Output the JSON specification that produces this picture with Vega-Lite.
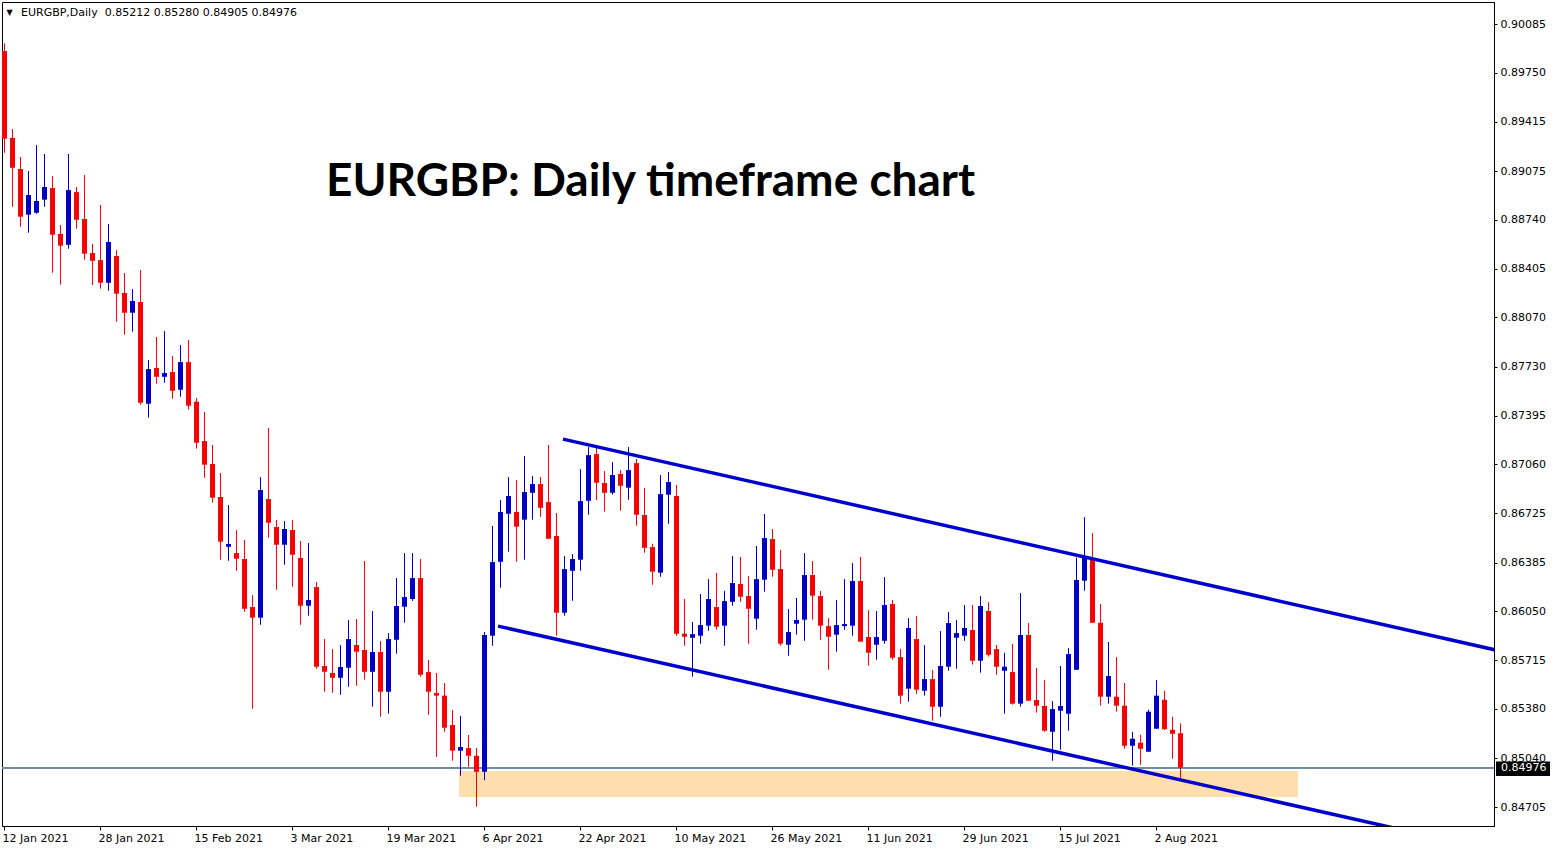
{
"$schema": "https://vega.github.io/schema/vega-lite/v6.json",
"width": 1492, "height": 824,
"autosize": "none",
"padding": {"left": 2, "top": 2, "right": 64, "bottom": 24},
"background": "white",
"config": {"view": {"stroke": "black", "strokeWidth": 1}, "axis": {"grid": false, "labelFont": "DejaVu Sans", "labelFontSize": 11, "labelColor": "black", "domainColor": "black", "tickColor": "black"}},
"resolve": {"axis": {"x": "independent", "y": "independent"}},
"data": {"values": [
{"i":0,"o":0.89899,"h":0.89952,"l":0.89200,"c":0.89297},
{"i":1,"o":0.89302,"h":0.89363,"l":0.88829,"c":0.89097},
{"i":2,"o":0.89089,"h":0.89171,"l":0.88692,"c":0.88761},
{"i":3,"o":0.88775,"h":0.89075,"l":0.88651,"c":0.88910},
{"i":4,"o":0.88788,"h":0.89253,"l":0.88781,"c":0.88869},
{"i":5,"o":0.88878,"h":0.89192,"l":0.88829,"c":0.88965},
{"i":6,"o":0.88958,"h":0.89040,"l":0.88376,"c":0.88637},
{"i":7,"o":0.88642,"h":0.88704,"l":0.88294,"c":0.88562},
{"i":8,"o":0.88568,"h":0.89192,"l":0.88541,"c":0.88944},
{"i":9,"o":0.88930,"h":0.88965,"l":0.88678,"c":0.88740},
{"i":10,"o":0.88745,"h":0.89047,"l":0.88465,"c":0.88507},
{"i":11,"o":0.88511,"h":0.88575,"l":0.88291,"c":0.88458},
{"i":12,"o":0.88463,"h":0.88841,"l":0.88266,"c":0.88307},
{"i":13,"o":0.88307,"h":0.88711,"l":0.88252,"c":0.88587},
{"i":14,"o":0.88491,"h":0.88532,"l":0.88039,"c":0.88232},
{"i":15,"o":0.88237,"h":0.88374,"l":0.87950,"c":0.88101},
{"i":16,"o":0.88101,"h":0.88264,"l":0.87971,"c":0.88182},
{"i":17,"o":0.88175,"h":0.88395,"l":0.87469,"c":0.87483},
{"i":18,"o":0.87476,"h":0.87776,"l":0.87380,"c":0.87714},
{"i":19,"o":0.87721,"h":0.87934,"l":0.87613,"c":0.87661},
{"i":20,"o":0.87661,"h":0.87975,"l":0.87620,"c":0.87687},
{"i":21,"o":0.87694,"h":0.87804,"l":0.87510,"c":0.87565},
{"i":22,"o":0.87572,"h":0.87879,"l":0.87524,"c":0.87762},
{"i":23,"o":0.87762,"h":0.87914,"l":0.87435,"c":0.87462},
{"i":24,"o":0.87490,"h":0.87515,"l":0.87167,"c":0.87208},
{"i":25,"o":0.87220,"h":0.87419,"l":0.86967,"c":0.87057},
{"i":26,"o":0.87062,"h":0.87192,"l":0.86796,"c":0.86830},
{"i":27,"o":0.86835,"h":0.87000,"l":0.86404,"c":0.86528},
{"i":28,"o":0.86493,"h":0.86780,"l":0.86397,"c":0.86512},
{"i":29,"o":0.86450,"h":0.86608,"l":0.86328,"c":0.86411},
{"i":30,"o":0.86409,"h":0.86539,"l":0.86047,"c":0.86067},
{"i":31,"o":0.86079,"h":0.86161,"l":0.85380,"c":0.86006},
{"i":32,"o":0.86006,"h":0.86972,"l":0.85957,"c":0.86883},
{"i":33,"o":0.86821,"h":0.87309,"l":0.86555,"c":0.86658},
{"i":34,"o":0.86629,"h":0.86677,"l":0.86198,"c":0.86507},
{"i":35,"o":0.86507,"h":0.86670,"l":0.86370,"c":0.86615},
{"i":36,"o":0.86608,"h":0.86677,"l":0.86219,"c":0.86438},
{"i":37,"o":0.86416,"h":0.86533,"l":0.85957,"c":0.86088},
{"i":38,"o":0.86088,"h":0.86519,"l":0.86019,"c":0.86127},
{"i":39,"o":0.86216,"h":0.86251,"l":0.85655,"c":0.85669},
{"i":40,"o":0.85674,"h":0.85859,"l":0.85497,"c":0.85634},
{"i":41,"o":0.85626,"h":0.85790,"l":0.85490,"c":0.85593},
{"i":42,"o":0.85593,"h":0.85818,"l":0.85476,"c":0.85667},
{"i":43,"o":0.85662,"h":0.85990,"l":0.85531,"c":0.85859},
{"i":44,"o":0.85818,"h":0.85997,"l":0.85538,"c":0.85772},
{"i":45,"o":0.85784,"h":0.86395,"l":0.85580,"c":0.85634},
{"i":46,"o":0.85634,"h":0.86052,"l":0.85394,"c":0.85770},
{"i":47,"o":0.85770,"h":0.85845,"l":0.85325,"c":0.85497},
{"i":48,"o":0.85497,"h":0.85900,"l":0.85346,"c":0.85859},
{"i":49,"o":0.85854,"h":0.86278,"l":0.85758,"c":0.86086},
{"i":50,"o":0.86081,"h":0.86450,"l":0.85971,"c":0.86148},
{"i":51,"o":0.86134,"h":0.86450,"l":0.86120,"c":0.86278},
{"i":52,"o":0.86278,"h":0.86409,"l":0.85600,"c":0.85614},
{"i":53,"o":0.85632,"h":0.85715,"l":0.85339,"c":0.85497},
{"i":54,"o":0.85488,"h":0.85626,"l":0.85050,"c":0.85470},
{"i":55,"o":0.85470,"h":0.85557,"l":0.85222,"c":0.85250},
{"i":56,"o":0.85268,"h":0.85371,"l":0.85023,"c":0.85092},
{"i":57,"o":0.85092,"h":0.85332,"l":0.84920,"c":0.85117},
{"i":58,"o":0.85110,"h":0.85200,"l":0.84982,"c":0.85057},
{"i":59,"o":0.85057,"h":0.85110,"l":0.84707,"c":0.84947},
{"i":60,"o":0.84947,"h":0.85907,"l":0.84890,"c":0.85887},
{"i":61,"o":0.85882,"h":0.86636,"l":0.85813,"c":0.86388},
{"i":62,"o":0.86390,"h":0.86814,"l":0.86212,"c":0.86732},
{"i":63,"o":0.86720,"h":0.86972,"l":0.86459,"c":0.86842},
{"i":64,"o":0.86732,"h":0.86952,"l":0.86390,"c":0.86631},
{"i":65,"o":0.86679,"h":0.87117,"l":0.86404,"c":0.86869},
{"i":66,"o":0.86864,"h":0.86979,"l":0.86679,"c":0.86924},
{"i":67,"o":0.86924,"h":0.86972,"l":0.86699,"c":0.86761},
{"i":68,"o":0.86800,"h":0.87192,"l":0.86548,"c":0.86548},
{"i":69,"o":0.86567,"h":0.86725,"l":0.85882,"c":0.86040},
{"i":70,"o":0.86040,"h":0.86429,"l":0.86019,"c":0.86340},
{"i":71,"o":0.86328,"h":0.86443,"l":0.86122,"c":0.86409},
{"i":72,"o":0.86404,"h":0.87027,"l":0.86328,"c":0.86807},
{"i":73,"o":0.86809,"h":0.87178,"l":0.86713,"c":0.87123},
{"i":74,"o":0.87130,"h":0.87192,"l":0.86814,"c":0.86933},
{"i":75,"o":0.86931,"h":0.87013,"l":0.86734,"c":0.86864},
{"i":76,"o":0.86864,"h":0.87075,"l":0.86851,"c":0.86986},
{"i":77,"o":0.86993,"h":0.87020,"l":0.86741,"c":0.86912},
{"i":78,"o":0.86899,"h":0.87178,"l":0.86816,"c":0.87020},
{"i":79,"o":0.87068,"h":0.87096,"l":0.86638,"c":0.86713},
{"i":80,"o":0.86711,"h":0.86897,"l":0.86452,"c":0.86486},
{"i":81,"o":0.86491,"h":0.86514,"l":0.86232,"c":0.86322},
{"i":82,"o":0.86315,"h":0.86986,"l":0.86287,"c":0.86855},
{"i":83,"o":0.86851,"h":0.87007,"l":0.86651,"c":0.86938},
{"i":84,"o":0.86842,"h":0.86917,"l":0.85882,"c":0.85896},
{"i":85,"o":0.85896,"h":0.86134,"l":0.85813,"c":0.85875},
{"i":86,"o":0.85868,"h":0.85976,"l":0.85600,"c":0.85893},
{"i":87,"o":0.85882,"h":0.86168,"l":0.85827,"c":0.85955},
{"i":88,"o":0.85951,"h":0.86271,"l":0.85916,"c":0.86134},
{"i":89,"o":0.86079,"h":0.86313,"l":0.85923,"c":0.85944},
{"i":90,"o":0.85951,"h":0.86191,"l":0.85813,"c":0.86120},
{"i":91,"o":0.86115,"h":0.86429,"l":0.86088,"c":0.86244},
{"i":92,"o":0.86237,"h":0.86423,"l":0.86115,"c":0.86150},
{"i":93,"o":0.86155,"h":0.86292,"l":0.85827,"c":0.86067},
{"i":94,"o":0.85999,"h":0.86498,"l":0.85923,"c":0.86271},
{"i":95,"o":0.86267,"h":0.86718,"l":0.86184,"c":0.86553},
{"i":96,"o":0.86546,"h":0.86615,"l":0.86287,"c":0.86335},
{"i":97,"o":0.86340,"h":0.86471,"l":0.85813,"c":0.85827},
{"i":98,"o":0.85820,"h":0.86065,"l":0.85744,"c":0.85907},
{"i":99,"o":0.85964,"h":0.86141,"l":0.85889,"c":0.85990},
{"i":100,"o":0.85992,"h":0.86450,"l":0.85847,"c":0.86299},
{"i":101,"o":0.86299,"h":0.86395,"l":0.85992,"c":0.86157},
{"i":102,"o":0.86155,"h":0.86189,"l":0.85854,"c":0.85951},
{"i":103,"o":0.85948,"h":0.86003,"l":0.85648,"c":0.85875},
{"i":104,"o":0.85889,"h":0.86127,"l":0.85772,"c":0.85955},
{"i":105,"o":0.85948,"h":0.86271,"l":0.85923,"c":0.85962},
{"i":106,"o":0.85951,"h":0.86381,"l":0.85882,"c":0.86258},
{"i":107,"o":0.86258,"h":0.86423,"l":0.85841,"c":0.85841},
{"i":108,"o":0.85873,"h":0.86058,"l":0.85676,"c":0.85765},
{"i":109,"o":0.85820,"h":0.86052,"l":0.85717,"c":0.85873},
{"i":110,"o":0.85847,"h":0.86285,"l":0.85827,"c":0.86093},
{"i":111,"o":0.86100,"h":0.86127,"l":0.85717,"c":0.85731},
{"i":112,"o":0.85735,"h":0.85792,"l":0.85415,"c":0.85470},
{"i":113,"o":0.85518,"h":0.86003,"l":0.85428,"c":0.85935},
{"i":114,"o":0.85859,"h":0.86017,"l":0.85483,"c":0.85511},
{"i":115,"o":0.85504,"h":0.85818,"l":0.85470,"c":0.85584},
{"i":116,"o":0.85584,"h":0.85646,"l":0.85298,"c":0.85394},
{"i":117,"o":0.85394,"h":0.85914,"l":0.85325,"c":0.85674},
{"i":118,"o":0.85669,"h":0.86045,"l":0.85641,"c":0.85969},
{"i":119,"o":0.85868,"h":0.85990,"l":0.85655,"c":0.85900},
{"i":120,"o":0.85882,"h":0.86093,"l":0.85847,"c":0.85935},
{"i":121,"o":0.85921,"h":0.86093,"l":0.85683,"c":0.85710},
{"i":122,"o":0.85710,"h":0.86155,"l":0.85628,"c":0.86086},
{"i":123,"o":0.86052,"h":0.86113,"l":0.85738,"c":0.85751},
{"i":124,"o":0.85790,"h":0.85818,"l":0.85614,"c":0.85669},
{"i":125,"o":0.85641,"h":0.85765,"l":0.85346,"c":0.85669},
{"i":126,"o":0.85632,"h":0.85825,"l":0.85408,"c":0.85415},
{"i":127,"o":0.85415,"h":0.86175,"l":0.85394,"c":0.85887},
{"i":128,"o":0.85887,"h":0.85969,"l":0.85435,"c":0.85435},
{"i":129,"o":0.85440,"h":0.85660,"l":0.85353,"c":0.85401},
{"i":130,"o":0.85399,"h":0.85577,"l":0.85222,"c":0.85229},
{"i":131,"o":0.85222,"h":0.85433,"l":0.85023,"c":0.85378},
{"i":132,"o":0.85367,"h":0.85674,"l":0.85099,"c":0.85399},
{"i":133,"o":0.85346,"h":0.85797,"l":0.85229,"c":0.85756},
{"i":134,"o":0.85648,"h":0.86418,"l":0.85648,"c":0.86265},
{"i":135,"o":0.86260,"h":0.86697,"l":0.86191,"c":0.86425},
{"i":136,"o":0.86411,"h":0.86587,"l":0.85971,"c":0.85971},
{"i":137,"o":0.85971,"h":0.86100,"l":0.85401,"c":0.85463},
{"i":138,"o":0.85463,"h":0.85839,"l":0.85415,"c":0.85605},
{"i":139,"o":0.85463,"h":0.85735,"l":0.85360,"c":0.85401},
{"i":140,"o":0.85401,"h":0.85557,"l":0.85105,"c":0.85126},
{"i":141,"o":0.85126,"h":0.85222,"l":0.84989,"c":0.85174},
{"i":142,"o":0.85147,"h":0.85202,"l":0.84995,"c":0.85105},
{"i":143,"o":0.85085,"h":0.85373,"l":0.85085,"c":0.85360},
{"i":144,"o":0.85243,"h":0.85577,"l":0.85243,"c":0.85470},
{"i":145,"o":0.85442,"h":0.85504,"l":0.85234,"c":0.85239},
{"i":146,"o":0.85236,"h":0.85325,"l":0.85037,"c":0.85208},
{"i":147,"o":0.85212,"h":0.85280,"l":0.84905,"c":0.84976}
]},
"layer": [
{
"data": {"values": [{"x1": 56.875, "x2": 161.75, "y1": 0.84952, "y2": 0.84774}]},
"mark": {"type": "rect", "color": "#FFDEAD"},
"encoding": {
"x": {"field": "x1", "type": "quantitative", "scale": {"domain": [-0.25, 186.25], "nice": false, "zero": false, "padding": 0}, "axis": {"values": [0,12,24,36,48,60,72,84,96,108,120,132,144], "labelExpr": "['12 Jan 2021','28 Jan 2021','15 Feb 2021','3 Mar 2021','19 Mar 2021','6 Apr 2021','22 Apr 2021','10 May 2021','26 May 2021','11 Jun 2021','29 Jun 2021','15 Jul 2021','2 Aug 2021'][round(datum.value/12)]", "labelAlign": "left", "labelOffset": -2, "labelOverlap": false, "labelFlush": false, "tickSize": 4, "labelPadding": 2, "title": null, "domain": true}},
"x2": {"field": "x2"},
"y": {"field": "y1", "type": "quantitative", "scale": {"domain": [0.845745, 0.902362], "nice": false, "zero": false, "padding": 0}, "axis": {"orient": "right", "values": [0.90085,0.8975,0.89415,0.89075,0.8874,0.88405,0.8807,0.8773,0.87395,0.8706,0.86725,0.86385,0.8605,0.85715,0.8538,0.8504,0.84705], "format": ".5f", "labelOverlap": false, "labelFlush": false, "tickSize": 3, "labelPadding": 3, "title": null}},
"y2": {"field": "y2"}
}
},
{
"mark": {"type": "rule", "color": "#778899", "strokeWidth": 1},
"encoding": {"y": {"datum": 0.84976, "type": "quantitative", "scale": {"domain": [0.845745, 0.902362], "nice": false, "zero": false, "padding": 0}, "axis": null}}
},
{
"mark": {"type": "rule", "strokeWidth": 1, "xOffset": 0.5},
"encoding": {
"x": {"field": "i", "type": "quantitative", "scale": {"domain": [-0.25, 186.25], "nice": false, "zero": false, "padding": 0}, "axis": null},
"y": {"field": "l", "type": "quantitative", "scale": {"domain": [0.845745, 0.902362], "nice": false, "zero": false, "padding": 0}, "axis": null},
"y2": {"field": "h"},
"color": {"condition": {"test": "datum.c > datum.o", "value": "#0000CD"}, "value": "#FF0000"}
}
},
{
"mark": {"type": "bar", "size": 5, "xOffset": 0.5},
"encoding": {
"x": {"field": "i", "type": "quantitative", "scale": {"domain": [-0.25, 186.25], "nice": false, "zero": false, "padding": 0}, "axis": null},
"y": {"field": "o", "type": "quantitative", "scale": {"domain": [0.845745, 0.902362], "nice": false, "zero": false, "padding": 0}, "axis": null},
"y2": {"field": "c"},
"color": {"condition": {"test": "datum.c > datum.o", "value": "#0000CD"}, "value": "#FF0000"}
}
},
{
"data": {"values": [
{"g": "upper", "i": 69.875, "p": 0.87233},
{"g": "upper", "i": 190, "p": 0.8574},
{"g": "lower", "i": 61.75, "p": 0.85948},
{"g": "lower", "i": 175, "p": 0.84545}
]},
"mark": {"type": "line", "color": "#0000CD", "strokeWidth": 3.5, "clip": true},
"encoding": {
"x": {"field": "i", "type": "quantitative", "scale": {"domain": [-0.25, 186.25], "nice": false, "zero": false, "padding": 0}, "axis": null},
"y": {"field": "p", "type": "quantitative", "scale": {"domain": [0.845745, 0.902362], "nice": false, "zero": false, "padding": 0}, "axis": null},
"detail": {"field": "g"}
}
},
{
"data": {"values": [{"x1": 186.5, "x2": 193.25, "y1": 0.85018, "y2": 0.84918}]},
"mark": {"type": "rect", "color": "black", "clip": false},
"encoding": {
"x": {"field": "x1", "type": "quantitative", "scale": {"domain": [-0.25, 186.25], "nice": false, "zero": false, "padding": 0}, "axis": null},
"x2": {"field": "x2"},
"y": {"field": "y1", "type": "quantitative", "scale": {"domain": [0.845745, 0.902362], "nice": false, "zero": false, "padding": 0}, "axis": null},
"y2": {"field": "y2"}
}
},
{
"data": {"values": [{"t": "0.84976", "x": 186.5, "y": 0.84970}]},
"mark": {"type": "text", "color": "white", "font": "DejaVu Sans", "fontSize": 11, "align": "left", "baseline": "middle", "dx": 5, "clip": false},
"encoding": {
"x": {"field": "x", "type": "quantitative", "scale": {"domain": [-0.25, 186.25], "nice": false, "zero": false, "padding": 0}, "axis": null},
"y": {"field": "y", "type": "quantitative", "scale": {"domain": [0.845745, 0.902362], "nice": false, "zero": false, "padding": 0}, "axis": null},
"text": {"field": "t"}
}
},
{
"data": {"values": [
{"t": "EURGBP: Daily timeframe chart", "x": 40.25, "y": 0.88903}
]},
"mark": {"type": "text", "color": "black", "font": "Lato", "fontWeight": "bold", "fontSize": 46, "align": "left", "baseline": "alphabetic"},
"encoding": {
"x": {"field": "x", "type": "quantitative", "scale": {"domain": [-0.25, 186.25], "nice": false, "zero": false, "padding": 0}, "axis": null},
"y": {"field": "y", "type": "quantitative", "scale": {"domain": [0.845745, 0.902362], "nice": false, "zero": false, "padding": 0}, "axis": null},
"text": {"field": "t"}
}
},
{
"data": {"values": [
{"t": "EURGBP,Daily\u00a0 0.85212 0.85280 0.84905 0.84976", "x": 2.125, "y": 0.90160}
]},
"mark": {"type": "text", "color": "black", "font": "DejaVu Sans", "fontSize": 11, "align": "left", "baseline": "middle"},
"encoding": {
"x": {"field": "x", "type": "quantitative", "scale": {"domain": [-0.25, 186.25], "nice": false, "zero": false, "padding": 0}, "axis": null},
"y": {"field": "y", "type": "quantitative", "scale": {"domain": [0.845745, 0.902362], "nice": false, "zero": false, "padding": 0}, "axis": null},
"text": {"field": "t"}
}
},
{
"data": {"values": [{"t": "▼", "x": 0.69, "y": 0.90160}]},
"mark": {"type": "text", "color": "black", "font": "DejaVu Sans", "fontSize": 8, "align": "center", "baseline": "middle"},
"encoding": {
"x": {"field": "x", "type": "quantitative", "scale": {"domain": [-0.25, 186.25], "nice": false, "zero": false, "padding": 0}, "axis": null},
"y": {"field": "y", "type": "quantitative", "scale": {"domain": [0.845745, 0.902362], "nice": false, "zero": false, "padding": 0}, "axis": null},
"text": {"field": "t"}
}
}
]
}
